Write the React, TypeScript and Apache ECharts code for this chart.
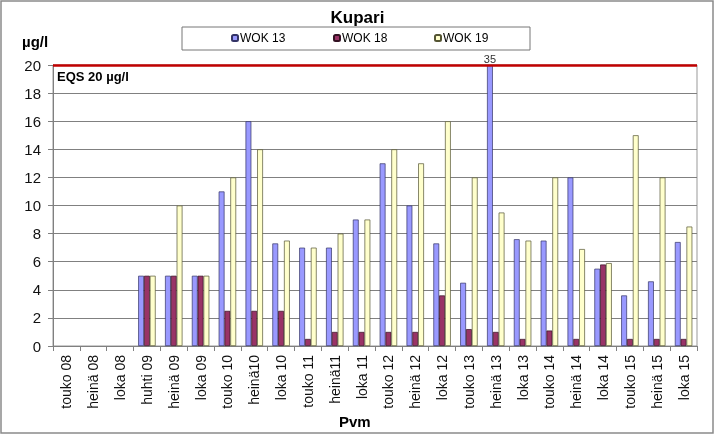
import React, { useEffect, useRef } from "react";
import * as echarts from "echarts";

const categories = [
  "touko 08", "heinä 08", "loka 08", "huhti 09", "heinä 09", "loka 09",
  "touko 10", "heinä10", "loka 10", "touko 11", "heinä11", "loka 11",
  "touko 12", "heinä 12", "loka 12", "touko 13", "heinä 13", "loka 13",
  "touko 14", "heinä 14", "loka 14", "touko 15", "heinä 15", "loka 15",
];
const wok13: (number | null)[] = [null, null, null, 5, 5, 5, 11, 16, 7.3, 7, 7, 9, 13, 10, 7.3, 4.5, 35, 7.6, 7.5, 12, 5.5, 3.6, 4.6, 7.4];
const wok18: (number | null)[] = [null, null, null, 5, 5, 5, 2.5, 2.5, 2.5, 0.5, 1, 1, 1, 1, 3.6, 1.2, 1, 0.5, 1.1, 0.5, 5.8, 0.5, 0.5, 0.5];
const wok19: (number | null)[] = [null, null, null, 5, 10, 5, 12, 14, 7.5, 7, 8, 9, 14, 13, 16, 12, 9.5, 7.5, 12, 6.9, 5.9, 15, 12, 8.5];
const seriesNames = ["WOK 13", "WOK 18", "WOK 19"];
const yMin = 0;
const yMax = 20;
const yInterval = 2;
const eqsValue = 20;
const eqsLabel = "EQS 20 µg/l";

const FONT = "'Liberation Sans', Arial, sans-serif";

export default function App() {
  const ref = useRef<HTMLDivElement>(null);
  useEffect(() => {
    document.body.style.margin = "0";
    const chart = echarts.init(ref.current!, null, { renderer: "svg" });
    const colors = ["#9999FF", "#993366", "#FFFFCC"];
    const borders = ["#333366", "#331122", "#555533"];
    const datasets = [wok13, wok18, wok19];
    const series: any[] = datasets.map((arr, si) => ({
      name: seriesNames[si],
      type: "bar",
      barGap: "0%",
      barCategoryGap: "35%",
      itemStyle: { color: colors[si], borderColor: borders[si], borderWidth: 0.7 },
      data: arr.map((v) => {
        if (v === null) return "-";
        if (v > yMax) {
          return {
            value: yMax,
            label: {
              show: true,
              position: "top",
              formatter: String(v),
              fontFamily: FONT,
              fontSize: 11,
              color: "#333",
              distance: 1,
            },
          };
        }
        return v;
      }),
    }));
    series[0].markLine = {
      silent: true,
      symbol: ["none", "none"],
      label: { show: false },
      lineStyle: { color: "#C00000", width: 2.5, type: "solid" },
      data: [{ yAxis: eqsValue }],
      z: 5,
    };
    const legendXs = [231, 333, 434];
    chart.setOption({
      animation: false,
      title: {
        text: "Kupari",
        left: "center",
        top: 4,
        textStyle: { fontFamily: FONT, fontSize: 17, fontWeight: "bold", color: "#000" },
      },
      legend: seriesNames.map((n, i) => ({
        data: [n],
        left: legendXs[i],
        top: 32,
        padding: 0,
        itemWidth: 6,
        itemHeight: 6,
        itemGap: 0,
        z: 10,
        textStyle: { fontFamily: FONT, fontSize: 12, color: "#000", padding: [0, 0, 0, -3] },
      })),
      grid: { left: 53, right: 18, top: 65, bottom: 90, show: true, borderColor: "#999", borderWidth: 1, backgroundColor: "transparent" },
      xAxis: {
        type: "category",
        data: categories,
        boundaryGap: true,
        axisLine: { lineStyle: { color: "#808080" } },
        axisTick: { show: true, length: 5, alignWithLabel: false, lineStyle: { color: "#808080" } },
        axisLabel: { rotate: 90, interval: 0, margin: 9, fontFamily: FONT, fontSize: 14, color: "#111" },
        splitLine: { show: false },
      },
      yAxis: {
        type: "value",
        min: yMin,
        max: yMax,
        interval: yInterval,
        axisLine: { show: true, lineStyle: { color: "#808080" } },
        axisTick: { show: true, length: 5, lineStyle: { color: "#808080" } },
        axisLabel: { margin: 12, fontFamily: FONT, fontSize: 15, color: "#111" },
        splitLine: { show: true, lineStyle: { color: "#808080", width: 1 } },
      },
      graphic: [
        { type: "rect", z: -10, shape: { x: 1, y: 1, width: 712, height: 432 }, style: { fill: "#fff", stroke: "#8a8a8a", lineWidth: 1.5 } },
        { type: "rect", z: 1, shape: { x: 182, y: 27, width: 348, height: 23 }, style: { fill: "#fff", stroke: "#777", lineWidth: 1 } },
        { type: "text", z: 10, left: 22, top: 34, style: { text: "µg/l", font: `bold 15px ${FONT}`, fill: "#000" } },
        { type: "text", z: 10, left: 57, top: 70, style: { text: eqsLabel, font: `bold 13px ${FONT}`, fill: "#000" } },
        { type: "text", z: 10, left: 339, top: 414, style: { text: "Pvm", font: `bold 15px ${FONT}`, fill: "#000" } },
      ],
      series,
    });
    return () => chart.dispose();
  }, []);
  return <div ref={ref} style={{ position: "fixed", left: 0, top: 0, width: 715, height: 436 }} />;
}
